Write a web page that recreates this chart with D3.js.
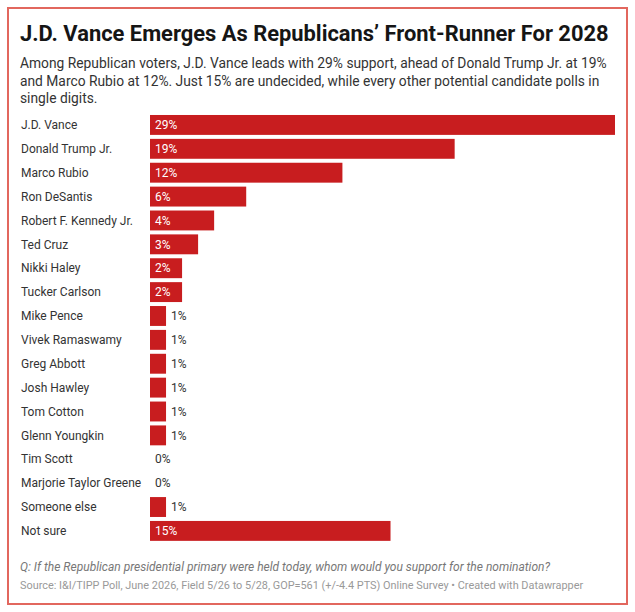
<!DOCTYPE html>
<html lang="en">
<head>
<meta charset="UTF-8" />
<title>Republican 2028 front-runner</title>
<script src="https://d3js.org/d3.v7.js"></script>
<style>
    body { margin: 0; background: #fff; }
    text { font-family: Roboto, "Noto Sans", sans-serif; }
</style>
</head>
<body>
<script>
    var w = 635;
    var h = 612;

    var candidates = ["J.D. Vance", "Donald Trump Jr.", "Marco Rubio", "Ron DeSantis",
        "Robert F. Kennedy Jr.", "Ted Cruz", "Nikki Haley", "Tucker Carlson", "Mike Pence",
        "Vivek Ramaswamy", "Greg Abbott", "Josh Hawley", "Tom Cotton", "Glenn Youngkin",
        "Tim Scott", "Marjorie Taylor Greene", "Someone else", "Not sure"];
    var support = [29, 19, 12, 6, 4, 3, 2, 2, 1, 1, 1, 1, 1, 1, 0, 0, 1, 15];

    var title = "J.D. Vance Emerges As Republicans\u2019 Front-Runner For 2028";
    var subtitle = ["Among Republican voters, J.D. Vance leads with 29% support, ahead of Donald Trump Jr. at 19%",
        "and Marco Rubio at 12%. Just 15% are undecided, while every other potential candidate polls in",
        "single digits."];
    var question = "Q: If the Republican presidential primary were held today, whom would you support for the nomination?";
    var source = "Source: I&I/TIPP Poll, June 2026, Field 5/26 to 5/28, GOP=561 (+/-4.4 PTS) Online Survey \u2022 Created with Datawrapper";

    var barColor = "#c81d1f";

    var svg = d3.select("body")
        .append("svg")
        .attr("width", w)
        .attr("height", h);

    svg.append("rect")
        .attr("x", 8).attr("y", 8)
        .attr("width", 619).attr("height", 596)
        .attr("fill", "#fff")
        .attr("stroke", "#e2675e")
        .attr("stroke-width", 2);

    svg.append("text")
        .attr("x", 20).attr("y", 41)
        .attr("font-size", 21.9)
        .attr("font-weight", "bold")
        .attr("fill", "#151515")
        .text(title);

    svg.selectAll(".sub")
        .data(subtitle)
        .enter()
        .append("text")
        .attr("class", "sub")
        .attr("x", 20)
        .attr("y", function(d, i){ return 68 + i * 17.6; })
        .attr("font-size", 13.8)
        .attr("fill", "#333")
        .text(function(d){ return d; });

    var data = candidates.map(function(c, i){ return {name: c, value: support[i]}; });

    var xScale = d3.scaleLinear()
        .domain([0, 29])
        .range([150, 615]);

    var yScale = d3.scaleBand()
        .domain(candidates)
        .range([113, 113 + 18 * 23.88])
        .paddingInner(1 / 6)
        .paddingOuter(1 / 12);

    // category labels
    svg.selectAll(".label")
        .data(data)
        .enter()
        .append("text")
        .attr("class", "label")
        .attr("x", 21)
        .attr("y", function(d){ return yScale(d.name) + yScale.bandwidth() / 2; })
        .attr("dy", "0.35em")
        .attr("font-size", 12)
        .attr("fill", "#333")
        .text(function(d){ return d.name; });

    svg.selectAll(".bar")
        .data(data)
        .enter()
        .append("rect")
        .attr("class", "bar")
        .attr("x", xScale(0))
        .attr("y", function(d){ return yScale(d.name); })
        .attr("width", function(d){ return xScale(d.value) - xScale(0); })
        .attr("height", yScale.bandwidth())
        .attr("fill", barColor);

    // values: inside for wide bars, after the bar for narrow ones
    svg.selectAll(".value")
        .data(data)
        .enter()
        .append("text")
        .attr("class", "value")
        .attr("x", function(d){
            return d.value >= 2 ? xScale(0) + 5 : xScale(d.value) + 5;
        })
        .attr("y", function(d){ return yScale(d.name) + yScale.bandwidth() / 2; })
        .attr("dy", "0.35em")
        .attr("font-size", 12)
        .attr("fill", function(d){ return d.value >= 2 ? "#fff" : "#333"; })
        .text(function(d){ return d.value + "%"; });

    svg.append("text")
        .attr("x", 20).attr("y", 571)
        .attr("font-size", 12)
        .attr("font-style", "italic")
        .attr("fill", "#777")
        .text(question);

    svg.append("text")
        .attr("x", 20).attr("y", 589)
        .attr("font-size", 10.9)
        .attr("fill", "#999")
        .text(source);
</script>
</body>
</html>
